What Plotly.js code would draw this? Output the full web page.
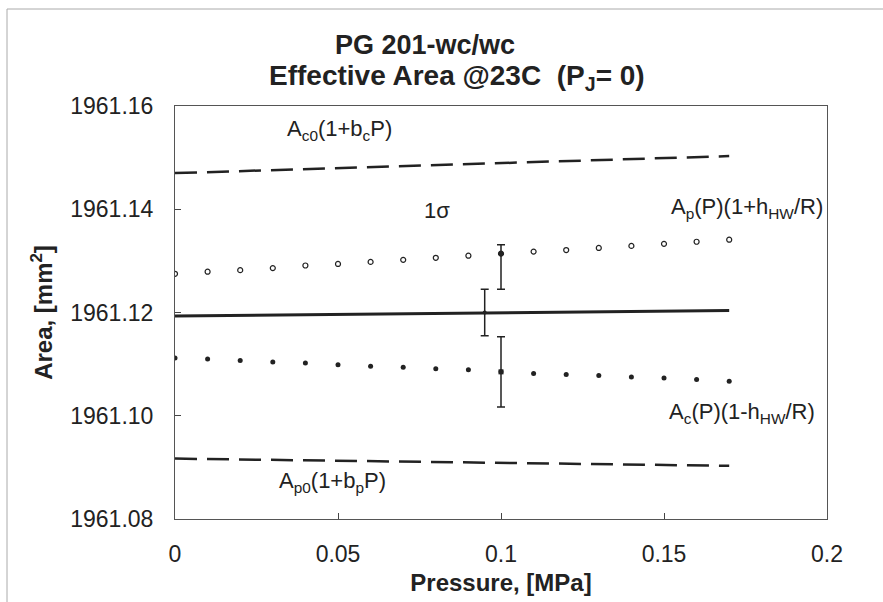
<!DOCTYPE html>
<html>
<head>
<meta charset="utf-8">
<script src="https://cdn.plot.ly/plotly-3.0.1.min.js"></script>
<style>
html,body{margin:0;padding:0;background:#fff;}
#chart{width:883px;height:602px;}
</style>
</head>
<body>
<div id="chart"></div>
<script>
// Pressure points, MPa
const pressure = [0, 0.01, 0.02, 0.03, 0.04, 0.05, 0.06, 0.07, 0.08, 0.09, 0.10, 0.11, 0.12, 0.13, 0.14, 0.15, 0.16, 0.17];
// Ap(P)(1+hHW/R) – open circles
const apUpper = [1961.1275, 1961.1279, 1961.1282, 1961.1286, 1961.1291, 1961.1294, 1961.1298, 1961.1302, 1961.1306, 1961.1310, 1961.1314, 1961.1318, 1961.1321, 1961.1325, 1961.1329, 1961.1333, 1961.1337, 1961.1341];
// Ac(P)(1-hHW/R) – filled dots
const acLower = [1961.1112, 1961.1110, 1961.1107, 1961.1104, 1961.1102, 1961.1099, 1961.1096, 1961.1094, 1961.1091, 1961.1089, 1961.1085, 1961.1082, 1961.1080, 1961.1078, 1961.1075, 1961.1073, 1961.1070, 1961.1067];
// Mean effective area – solid line
const meanX = [0, 0.17];
const meanY = [1961.1193, 1961.1204];
// Ac0(1+bcP) – upper dashed line
const ac0X = [0, 0.17];
const ac0Y = [1961.1470, 1961.1503];
// Ap0(1+bpP) – lower dashed line
const ap0X = [0, 0.17];
const ap0Y = [1961.0917, 1961.0903];
// 1-sigma error bars
const sigApX = [0.10], sigApY = [1961.1314], sigApPlus = [0.0017], sigApMinus = [0.0069];
const sigMidX = [0.095], sigMidY = [1961.1200], sigMidErr = [0.0045];
const sigAcX = [0.10], sigAcY = [1961.1085], sigAcErr = [0.0068];
// Axis ticks
const xTicks = [0, 0.05, 0.1, 0.15, 0.2];
const xTickText = ['0', '0.05', '0.1', '0.15', '0.2'];
const yTicks = [1961.08, 1961.10, 1961.12, 1961.14, 1961.16];
const yTickText = ['1961.08', '1961.10', '1961.12', '1961.14', '1961.16'];

const ink = '#222';
const FONT = 'Liberation Sans, Arial, sans-serif';

const traces = [
  {x: meanX, y: meanY, mode: 'lines', line: {color: ink, width: 3}, hoverinfo: 'skip', name: 'mean'},
  {x: ac0X, y: ac0Y, mode: 'lines', line: {color: ink, width: 2.5, dash: '22px,10px'}, name: 'Ac0(1+bcP)'},
  {x: ap0X, y: ap0Y, mode: 'lines', line: {color: ink, width: 2.5, dash: '22px,10px'}, name: 'Ap0(1+bpP)'},
  {x: pressure, y: apUpper, mode: 'markers', name: 'Ap(P)(1+hHW/R)',
   marker: {symbol: pressure.map(p => p === 0.1 ? 'circle' : 'circle-open'), size: 5, color: ink, line: {color: ink, width: 1.2}}},
  {x: pressure, y: acLower, mode: 'markers', name: 'Ac(P)(1-hHW/R)',
   marker: {symbol: 'circle', size: 5, color: ink}},
  {x: sigApX, y: sigApY, mode: 'markers', marker: {size: 5, color: ink},
   error_y: {type: 'data', symmetric: false, array: sigApPlus, arrayminus: sigApMinus, color: ink, thickness: 1.5, width: 4}},
  {x: sigMidX, y: sigMidY, mode: 'markers', marker: {size: 4, color: ink},
   error_y: {type: 'data', array: sigMidErr, color: ink, thickness: 1.5, width: 4}},
  {x: sigAcX, y: sigAcY, mode: 'markers', marker: {symbol: 'square', size: 5, color: ink},
   error_y: {type: 'data', array: sigAcErr, color: ink, thickness: 1.5, width: 4}}
];

const L = 175, R = 56, T = 106, B = 83, W = 883, H = 602;
const pw = W - L - R, ph = H - T - B;
const px = v => (v - L) / pw;
const py = v => (H - B - v) / ph;

const annFont = {family: FONT, size: 22, color: ink};
const layout = {
  width: W, height: H,
  margin: {l: L, r: R, t: T, b: B, pad: 0},
  paper_bgcolor: '#fff', plot_bgcolor: '#fff',
  showlegend: false,
  font: {family: FONT, color: ink},
  xaxis: {
    range: [0, 0.2], tickvals: xTicks, ticktext: xTickText,
    ticks: 'inside', ticklen: 6, tickcolor: '#444', tickwidth: 1,
    showgrid: false, zeroline: false,
    showline: true, linecolor: '#555', linewidth: 1, mirror: true,
    tickfont: {family: FONT, size: 23, color: ink},
    ticklabelstandoff: 14,
    title: {text: '<b>Pressure, [MPa]</b>', font: {family: FONT, size: 24, color: ink}, standoff: 8}
  },
  yaxis: {
    range: [1961.08, 1961.16], tickvals: yTicks, ticktext: yTickText,
    ticks: 'inside', ticklen: 6, tickcolor: '#444', tickwidth: 1,
    showgrid: false, zeroline: false,
    showline: true, linecolor: '#555', linewidth: 1, mirror: true,
    tickfont: {family: FONT, size: 23, color: ink},
    ticklabelstandoff: 16,
    title: {text: '<b>Area, [mm<sup>2</sup>]</b>', font: {family: FONT, size: 24, color: ink}, standoff: 10}
  },
  annotations: [
    {xref: 'paper', yref: 'paper', x: px(425), y: py(45), xanchor: 'center', yanchor: 'middle', showarrow: false,
     text: '<b>PG 201-wc/wc</b>', font: {family: FONT, size: 27, color: ink}},
    {xref: 'paper', yref: 'paper', x: px(457), y: py(78), xanchor: 'center', yanchor: 'middle', showarrow: false,
     text: '<b>Effective Area @23C  (P<sub>J</sub>= 0)</b>', font: {family: FONT, size: 28, color: ink}},
    {xref: 'paper', yref: 'paper', x: px(285), y: py(130), xanchor: 'left', yanchor: 'middle', showarrow: false,
     text: 'A<sub>c0</sub>(1+b<sub>c</sub>P)', font: annFont},
    {xref: 'paper', yref: 'paper', x: px(437), y: py(210), xanchor: 'center', yanchor: 'middle', showarrow: false,
     text: '1σ', font: annFont},
    {xref: 'paper', yref: 'paper', x: px(669), y: py(208), xanchor: 'left', yanchor: 'middle', showarrow: false,
     text: 'A<sub>p</sub>(P)(1+h<sub>HW</sub>/R)', font: annFont},
    {xref: 'paper', yref: 'paper', x: px(667), y: py(413), xanchor: 'left', yanchor: 'middle', showarrow: false,
     text: 'A<sub>c</sub>(P)(1-h<sub>HW</sub>/R)', font: annFont},
    {xref: 'paper', yref: 'paper', x: px(277), y: py(482), xanchor: 'left', yanchor: 'middle', showarrow: false,
     text: 'A<sub>p0</sub>(1+b<sub>p</sub>P)', font: annFont}
  ],
  shapes: [
    {type: 'line', xref: 'paper', yref: 'paper', x0: px(7), x1: px(7), y0: py(9), y1: py(605), line: {color: '#aaa', width: 1}},
    {type: 'line', xref: 'paper', yref: 'paper', x0: px(7), x1: px(885), y0: py(9), y1: py(9), line: {color: '#aaa', width: 1}}
  ]
};

Plotly.newPlot('chart', traces, layout, {displayModeBar: false, staticPlot: true});
</script>
</body>
</html>
